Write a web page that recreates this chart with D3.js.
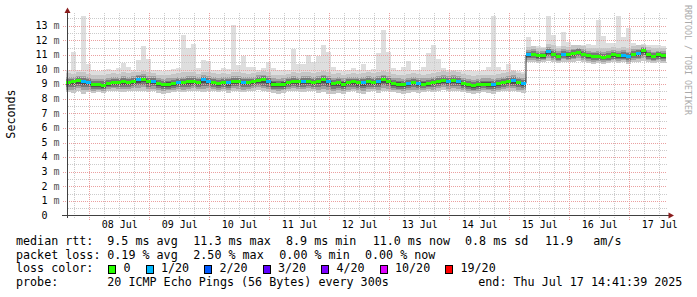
<!DOCTYPE html>
<html>
<head>
<meta charset="utf-8">
<script src="https://cdn.jsdelivr.net/npm/d3@7"></script>
<style>
  html, body { margin: 0; padding: 0; background: #fff; }
  svg { display: block; font-family: "DejaVu Sans Mono", monospace; }
</style>
</head>
<body>
<div id="graph"></div>
<script>
// Graph window (10 days) and the 2 hour bins
const startTime = Date.UTC(2025, 6, 7, 14, 41, 39);
const endTime = Date.UTC(2025, 6, 17, 14, 41, 39);
const binMs = 2 * 3600 * 1000;

// median rtt per bin, ms
const median = [
  9.10, 9.15, 9.25, 9.20, 9.10, 8.95, 8.95, 8.90, 9.05, 9.10,
  9.10, 9.15, 9.10, 9.15, 9.35, 9.35, 9.20, 9.20, 9.05, 8.95,
  9.00, 9.05, 9.10, 9.10, 9.15, 9.20, 9.10, 9.30, 9.20, 9.10,
  9.05, 9.10, 9.10, 9.15, 9.20, 9.10, 9.10, 9.15, 9.25, 9.30,
  9.20, 9.00, 8.95, 9.00, 9.10, 9.15, 9.15, 9.20, 9.15, 9.10,
  9.20, 9.30, 9.20, 9.05, 9.10, 9.00, 9.10, 9.15, 9.10, 9.10,
  9.15, 9.10, 9.15, 9.30, 9.20, 9.05, 9.00, 8.95, 9.05, 9.10,
  9.05, 9.00, 9.05, 9.10, 9.20, 9.25, 9.20, 9.25, 9.20, 9.05,
  8.95, 8.90, 8.95, 9.00, 9.00, 8.95, 9.05, 9.10, 9.20, 9.25,
  9.10, 9.05, 11.00, 11.05, 10.95, 10.95, 11.25, 11.05, 10.90, 11.05,
  11.00, 11.10, 11.20, 11.05, 10.95, 10.90, 10.90, 10.85, 10.90, 11.00,
  10.95, 10.95, 10.90, 11.05, 11.10, 11.30, 11.00, 10.90, 11.00, 10.95
];

// lost pings (out of 20) per bin
const loss = [
  0, 0, 0, 1, 1, 0, 0, 0, 0, 0,
  0, 0, 0, 0, 1, 0, 0, 1, 0, 0,
  0, 0, 1, 0, 0, 0, 0, 1, 1, 0,
  0, 0, 1, 0, 0, 1, 0, 0, 0, 0,
  1, 0, 0, 0, 0, 0, 0, 1, 0, 0,
  0, 0, 1, 0, 0, 0, 0, 0, 0, 1,
  0, 0, 1, 0, 0, 0, 0, 0, 1, 0,
  1, 0, 0, 0, 0, 0, 1, 0, 1, 0,
  0, 0, 0, 0, 0, 1, 0, 0, 0, 1,
  0, 1, 1, 0, 0, 0, 1, 0, 0, 1,
  0, 0, 0, 0, 0, 0, 0, 0, 0, 0,
  0, 1, 1, 0, 1, 0, 0, 0, 0, 0
];

// smoke: fastest ping, top of the smoke body, slowest ping (ms)
const smokeLow = [
  8.45, 8.40, 8.50, 8.35, 8.45, 8.40, 8.45, 8.40, 8.50, 8.55,
  8.50, 8.45, 8.50, 8.55, 8.50, 8.55, 8.45, 8.50, 8.40, 8.35,
  8.40, 8.45, 8.50, 8.45, 8.50, 8.55, 8.50, 8.45, 8.55, 8.50,
  8.45, 8.50, 8.40, 8.55, 8.50, 8.45, 8.50, 8.55, 8.60, 8.50,
  8.45, 8.40, 8.35, 8.40, 8.50, 8.55, 8.50, 8.45, 8.55, 8.50,
  8.40, 8.45, 8.35, 8.30, 8.40, 8.35, 8.45, 8.50, 8.40, 8.35,
  8.45, 8.50, 8.40, 8.55, 8.50, 8.45, 8.40, 8.35, 8.40, 8.45,
  8.40, 8.45, 8.50, 8.45, 8.55, 8.60, 8.50, 8.55, 8.50, 8.45,
  8.40, 8.35, 8.40, 8.45, 8.40, 8.35, 8.45, 8.50, 8.55, 8.50,
  8.45, 8.40, 10.55, 10.50, 10.45, 10.50, 10.60, 10.50, 10.45, 10.55,
  10.50, 10.55, 10.60, 10.50, 10.45, 10.40, 10.45, 10.40, 10.45, 10.50,
  10.45, 10.50, 10.40, 10.50, 10.55, 10.60, 10.50, 10.45, 10.50, 10.45
];
const smokeHigh = [
  9.75, 9.70, 9.80, 9.85, 9.70, 9.65, 9.60, 9.65, 9.70, 9.75,
  9.70, 9.80, 9.75, 9.80, 9.85, 9.90, 9.80, 9.75, 9.65, 9.60,
  9.65, 9.70, 9.75, 9.80, 9.85, 9.80, 9.70, 9.85, 9.80, 9.75,
  9.70, 9.75, 9.70, 9.80, 9.85, 9.75, 9.70, 9.75, 9.85, 9.90,
  9.85, 9.65, 9.60, 9.65, 9.70, 9.80, 9.75, 9.85, 9.80, 9.75,
  9.80, 9.90, 9.85, 9.70, 9.75, 9.65, 9.70, 9.75, 9.70, 9.75,
  9.80, 9.75, 9.80, 9.90, 9.85, 9.70, 9.65, 9.60, 9.70, 9.75,
  9.70, 9.65, 9.70, 9.75, 9.85, 9.90, 9.85, 9.90, 9.80, 9.70,
  9.60, 9.55, 9.60, 9.65, 9.65, 9.60, 9.70, 9.75, 9.85, 9.90,
  9.75, 9.70, 11.55, 11.60, 11.50, 11.50, 11.75, 11.65, 11.50, 11.60,
  11.55, 11.65, 11.70, 11.60, 11.50, 11.45, 11.50, 11.45, 11.50, 11.55,
  11.50, 11.55, 11.45, 11.60, 11.65, 11.70, 11.55, 11.45, 11.50, 11.45
];
const smokeMax = [
  10.00, 11.20, 10.00, 13.70, 10.40, 9.95, 9.90, 9.95, 10.05, 10.00,
  10.10, 10.45, 10.20, 10.00, 10.65, 11.60, 10.70, 10.00, 9.95, 9.90,
  10.00, 10.05, 10.10, 12.35, 11.50, 11.75, 10.10, 10.65, 10.60, 10.00,
  10.00, 10.10, 10.05, 13.05, 10.30, 10.90, 10.20, 10.15, 10.00, 10.10,
  10.50, 10.10, 10.00, 9.95, 10.00, 11.40, 10.40, 10.40, 11.00, 10.50,
  10.90, 11.70, 11.20, 10.20, 10.00, 9.90, 9.95, 10.10, 9.95, 10.40,
  10.00, 10.05, 11.10, 12.70, 11.20, 10.10, 10.00, 10.15, 10.60, 10.00,
  9.95, 10.20, 11.10, 11.65, 10.70, 10.10, 10.00, 9.95, 10.00, 9.90,
  9.95, 9.90, 9.90, 10.00, 10.20, 13.70, 10.15, 10.00, 10.40, 10.00,
  9.90, 9.85, 12.25, 11.55, 11.60, 11.55, 13.70, 12.40, 11.60, 12.60,
  11.90, 11.65, 11.70, 11.70, 11.75, 11.65, 13.40, 12.30, 11.85, 11.80,
  13.70, 12.20, 12.85, 11.85, 11.70, 11.75, 11.70, 11.65, 11.70, 11.60
];

const yTicks = [0, 1, 2, 3, 4, 5, 6, 7, 8, 9, 10, 11, 12, 13];
const lossLegend = ["0", "1/20", "2/20", "3/20", "4/20", "10/20", "19/20"];
const lossColors = ["#26ff00", "#00b8ff", "#0059ff", "#5e00ff", "#7e00ff", "#dd00ff", "#ff0000"];

const rttLegend = ["median rtt:", "9.5 ms avg", "11.3 ms max", "8.9 ms min", "11.0 ms now", "0.8 ms sd", "11.9", "am/s"];
const lossStats = ["packet loss:", "0.19 % avg", "2.50 % max", "0.00 % min", "0.00 % now"];
const probeLine = ["probe:", "20 ICMP Echo Pings (56 Bytes) every 300s", "end: Thu Jul 17 14:41:39 2025"];

// ---------------------------------------------------------------
const svg = d3.select('#graph')
    .append('svg')
    .attr('width', 697)
    .attr('height', 297);

const x = d3.scaleUtc().domain([startTime, endTime]).range([66, 666]);
const y = d3.scaleLinear().domain([0, 13.84]).range([215.5, 13.5]);
const px = v => Math.round(v) + 0.5;

const bins = median.map((m, i) => ({
    t0: new Date(startTime + i * binMs),
    t1: new Date(startTime + (i + 1) * binMs),
    med: m,
    lo: smokeLow[i],
    hi: smokeHigh[i],
    max: smokeMax[i],
    loss: loss[i]
}));

// smoke layers, light outside to dark around the median
const layers = [
    { color: '#dedede', lo: d => d.lo, hi: d => d.max },
    { color: '#c6c6c6', lo: d => d.lo, hi: d => d.hi },
    { color: '#a2a2a2', lo: d => d.med - (d.med - d.lo) * 0.72, hi: d => d.med + (d.hi - d.med) * 0.6 },
    { color: '#787878', lo: d => d.med - (d.med - d.lo) * 0.5, hi: d => d.med + (d.hi - d.med) * 0.38 },
    { color: '#4e4e4e', lo: d => d.med - (d.med - d.lo) * 0.28, hi: d => d.med + (d.hi - d.med) * 0.18 }
];

const smoke = svg.append('g').attr('shape-rendering', 'crispEdges');
layers.forEach(layer => {
    smoke.append('g')
        .selectAll('rect')
        .data(bins)
        .enter()
        .append('rect')
        .attr('x', d => x(d.t0))
        .attr('width', d => x(d.t1) - x(d.t0))
        .attr('y', d => y(layer.hi(d)))
        .attr('height', d => y(layer.lo(d)) - y(layer.hi(d)))
        .attr('fill', layer.color);
});

// grid
const grid = svg.append('g')
    .attr('stroke-width', 1)
    .attr('stroke-dasharray', '1,1')
    .attr('shape-rendering', 'crispEdges');

const minorY = d3.range(1, 28, 2).map(v => v / 2);
const dayTimes = d3.utcDay.range(new Date(startTime), new Date(endTime));
const sixHours = d3.utcHour.every(6).range(new Date(startTime), new Date(endTime))
    .filter(d => d.getUTCHours() !== 0);

grid.selectAll('.minor-y')
    .data(minorY)
    .enter()
    .append('line')
    .attr('x1', 68).attr('x2', 667)
    .attr('y1', d => px(y(d))).attr('y2', d => px(y(d)))
    .attr('stroke', '#cbcbcb');

grid.selectAll('.minor-x')
    .data(sixHours)
    .enter()
    .append('line')
    .attr('x1', d => px(x(d))).attr('x2', d => px(x(d)))
    .attr('y1', 13).attr('y2', 218)
    .attr('stroke', '#cbcbcb');

grid.selectAll('.major-y')
    .data(yTicks.slice(1))
    .enter()
    .append('line')
    .attr('x1', 63).attr('x2', 667)
    .attr('y1', d => px(y(d))).attr('y2', d => px(y(d)))
    .attr('stroke', '#eaa0a0');

grid.selectAll('.major-x')
    .data(dayTimes)
    .enter()
    .append('line')
    .attr('x1', d => px(x(d))).attr('x2', d => px(x(d)))
    .attr('y1', 13).attr('y2', 220)
    .attr('stroke', '#eaa0a0');

// median: thin dark step line with the loss coloured band on top
const medLine = d3.line()
    .x(d => x(d[0]))
    .y(d => y(d[1]))
    .curve(d3.curveStepAfter);

svg.append('path')
    .datum(bins.map(d => [d.t0, d.med]).concat([[new Date(endTime), median[median.length - 1]]]))
    .attr('d', medLine)
    .attr('fill', 'none')
    .attr('stroke', '#303030')
    .attr('stroke-width', 1);

svg.append('g')
    .attr('shape-rendering', 'crispEdges')
    .selectAll('rect')
    .data(bins)
    .enter()
    .append('rect')
    .attr('x', d => x(d.t0))
    .attr('width', d => x(d.t1) - x(d.t0))
    .attr('y', d => y(d.med) - 1.5)
    .attr('height', 3)
    .attr('fill', d => lossColors[d.loss]);

// axes
svg.append('line')
    .attr('x1', 67.5).attr('x2', 67.5).attr('y1', 12).attr('y2', 218)
    .attr('stroke', '#404040');
svg.append('line')
    .attr('x1', 62).attr('x2', 669).attr('y1', 215.5).attr('y2', 215.5)
    .attr('stroke', '#404040');
svg.append('path')
    .attr('d', 'M67.5,7.5 L64.5,13 L70.5,13 Z')
    .attr('fill', '#8a1c1c');
svg.append('path')
    .attr('d', 'M674,215.5 L668.5,212.5 L668.5,218.5 Z')
    .attr('fill', '#8a1c1c');

// x labels sit at noon, between the midnight lines
const noons = dayTimes.map(d => d3.utcHour.offset(d, 12)).filter(d => d < endTime);
const xAxis = svg.append('g')
    .attr('transform', 'translate(0,215.5)')
    .call(d3.axisBottom(x)
        .tickValues(noons)
        .tickFormat(d3.utcFormat('%d %b'))
        .tickSize(0)
        .tickPadding(5.5));
xAxis.select('.domain').remove();
xAxis.selectAll('text')
    .attr('font-family', '"DejaVu Sans Mono", monospace')
    .attr('font-size', '10px')
    .attr('fill', '#000');

// y labels: number then the unit
const yLab = svg.append('g').attr('font-size', '10px');
yLab.selectAll('.num')
    .data(yTicks)
    .enter()
    .append('text')
    .attr('x', 47.5)
    .attr('y', d => y(d) + 3.3)
    .attr('text-anchor', 'end')
    .text(d => d);
yLab.selectAll('.unit')
    .data(yTicks.slice(1))
    .enter()
    .append('text')
    .attr('x', 53.5)
    .attr('y', d => y(d) + 3.3)
    .attr('fill', '#555')
    .text('m');

svg.append('text')
    .attr('transform', 'translate(14.5,114) rotate(-90)')
    .attr('text-anchor', 'middle')
    .attr('font-size', '11.7px')
    .text('Seconds');

svg.append('text')
    .attr('transform', 'translate(684.5,5) rotate(90)')
    .attr('font-size', '8.3px')
    .attr('fill', '#aaaaaa')
    .text('RRDTOOL / TOBI OETIKER');

// legend block
const legend = svg.append('g').attr('font-size', '11.7px');
const rttX = [16, 107.3, 193.3, 286, 372.7, 465, 545, 593.3];
const lossX = [16, 107.3, 193.3, 279.3, 365];
const probeX = [16, 107.3, 478.3];

rttLegend.forEach((t, i) => {
    legend.append('text').attr('x', rttX[i]).attr('y', 245).text(t);
});
lossStats.forEach((t, i) => {
    legend.append('text').attr('x', lossX[i]).attr('y', 258.7).text(t);
});
probeLine.forEach((t, i) => {
    legend.append('text').attr('x', probeX[i]).attr('y', 286).text(t);
});

legend.append('text').attr('x', 16).attr('y', 272.4).text('loss color:');
let lx = 108.5;
lossLegend.forEach((t, i) => {
    legend.append('rect')
        .attr('x', lx).attr('y', 265.5)
        .attr('width', 7).attr('height', 8)
        .attr('fill', lossColors[i])
        .attr('stroke', '#000')
        .attr('shape-rendering', 'crispEdges');
    legend.append('text').attr('x', lx + 15).attr('y', 272.4).text(t);
    lx += 15 + t.length * 7 + 15.5;
});
</script>
</body>
</html>
